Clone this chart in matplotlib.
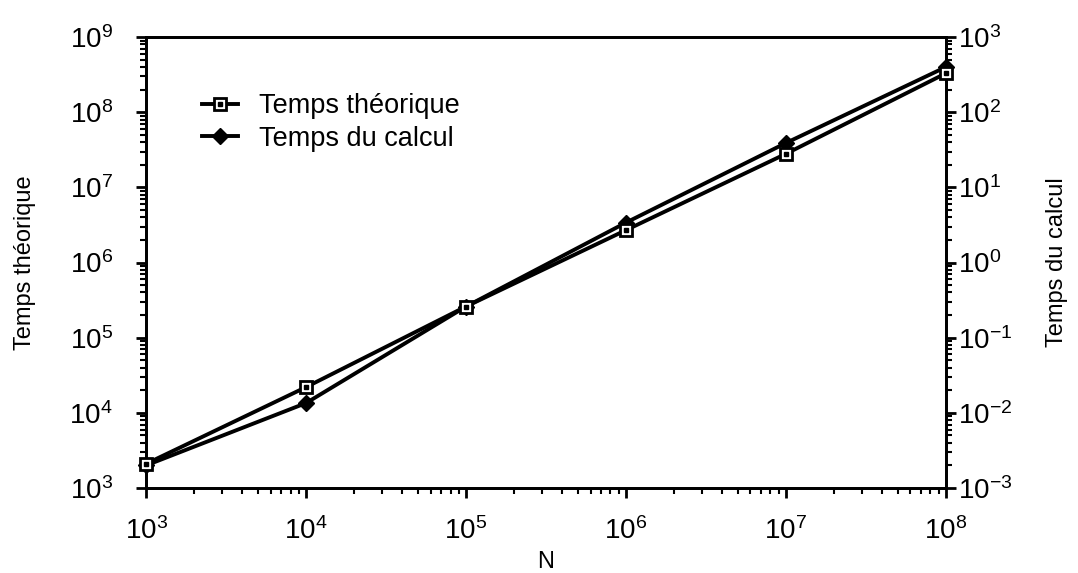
import math
import matplotlib
matplotlib.use("Agg")
import matplotlib.pyplot as plt
from matplotlib.ticker import LogLocator, FuncFormatter, NullFormatter
from matplotlib.legend_handler import HandlerTuple

plt.rcParams['font.family'] = ['Liberation Sans', 'DejaVu Sans']
plt.rcParams['mathtext.fontset'] = 'custom'
plt.rcParams['mathtext.rm'] = 'Liberation Sans'
plt.rcParams['mathtext.default'] = 'regular'

# --- data ---
N = [1e3, 1e4, 1e5, 1e6, 1e7, 1e8]
temps_theorique = [2.1e3, 2.2e4, 2.6e5, 2.7e6, 2.8e7, 3.3e8]   # left axis
temps_calcul = [2.0e-3, 1.35e-2, 0.26, 3.4, 39, 400]            # right axis

fig = plt.figure(figsize=(10.78, 5.73), dpi=100)
ax = fig.add_axes([0.1355, 0.1483, 0.742, 0.787])
ax2 = ax.twinx()

# right axis series first so the left one sits on top of the thick line
l2, = ax2.plot(N, temps_calcul, color="black", lw=2.8, marker="D", ms=8,
               mfc="black", mec="black", clip_on=False)
l1, = ax.plot(N, temps_theorique, color="black", lw=2.8, marker="s", ms=9,
              mfc="white", mec="black", mew=2, zorder=3, clip_on=False)
d1, = ax.plot(N, temps_theorique, ls="none", marker="s", ms=2.5,
              mfc="black", mec="black", zorder=4, clip_on=False)
ax.set_zorder(ax2.get_zorder() + 1)
ax.patch.set_visible(False)


def fmt(v, pos):
    return r"$10^{%d}$" % int(round(math.log10(v)))


for a in (ax, ax2):
    a.set_xscale("log")
    a.set_yscale("log")
    a.set_xlim(1e3, 1e8)
    for s in a.spines.values():
        s.set_linewidth(2)

ax.set_ylim(1e3, 1e9)
ax2.set_ylim(1e-3, 1e3)

for a in (ax, ax2):
    a.yaxis.set_major_locator(LogLocator(base=10, numticks=20))
    a.yaxis.set_minor_locator(LogLocator(base=10, subs=range(2, 10), numticks=20))
    a.yaxis.set_major_formatter(FuncFormatter(fmt))
    a.yaxis.set_minor_formatter(NullFormatter())
ax.xaxis.set_major_locator(LogLocator(base=10, numticks=20))
ax.xaxis.set_minor_locator(LogLocator(base=10, subs=range(2, 10), numticks=20))
ax.xaxis.set_major_formatter(FuncFormatter(fmt))
ax.xaxis.set_minor_formatter(NullFormatter())

ax.tick_params(which="major", direction="out", length=7, width=2, labelsize=20,
               top=False, right=False)
ax.tick_params(which="minor", direction="out", length=4, width=1.5,
               top=False, right=False)
ax.tick_params(axis="x", which="major", pad=14)
ax.tick_params(axis="y", which="major", pad=17)
ax2.tick_params(which="major", direction="out", length=7, width=2, labelsize=20, pad=2)
ax2.tick_params(which="minor", direction="out", length=4, width=1.5)
ax2.tick_params(axis="x", which="both", bottom=False, top=False, labelbottom=False)

ax.set_xlabel("N", fontsize=17, labelpad=4)
ax.set_ylabel("Temps théorique", fontsize=17, labelpad=24)
ax2.set_ylabel("Temps du calcul", fontsize=17, labelpad=24)

ax.legend([(l1, d1), l2], ["Temps théorique", "Temps du calcul"],
          handler_map={tuple: HandlerTuple(ndivide=1, pad=0)},
          loc="upper left", bbox_to_anchor=(0.04, 0.93), frameon=False,
          fontsize=19.5, handlelength=1.3, handletextpad=0.8, labelspacing=0.25)

fig.savefig("out.png", dpi=100)
